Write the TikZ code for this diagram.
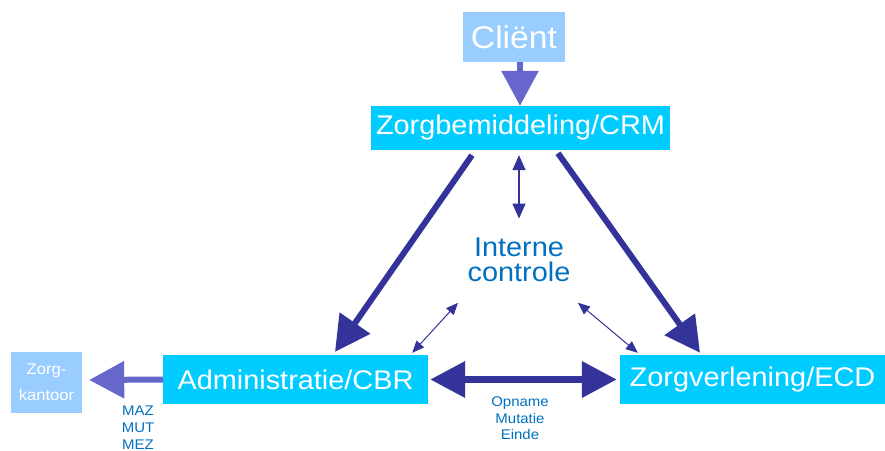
\documentclass[tikz,border=0pt]{standalone}
\usepackage{fontspec}
\setmainfont{Liberation Sans}[FakeStretch=1.07]
\usetikzlibrary{arrows.meta}
\definecolor{boxcyan}{HTML}{00CCFF}
\definecolor{lightbox}{HTML}{99CCFF}
\definecolor{midarrow}{HTML}{6666CC}
\definecolor{navy}{HTML}{333399}
\definecolor{textblue}{HTML}{0070C0}
\tikzset{
  mainbox/.style={fill=boxcyan, text=white, inner sep=0pt, font=\fontsize{27}{30}\selectfont},
  sidebox/.style={fill=lightbox, text=white, inner sep=0pt},
  bigflow/.style={draw=navy, line width=6pt, -{Triangle[length=35pt,width=36pt]}},
  inflow/.style={draw=midarrow, line width=6pt, -{Triangle[length=35pt,width=36pt]}},
  checklink/.style={draw=navy, line width=1pt, {Triangle[length=12pt,width=10pt]}-{Triangle[length=12pt,width=10pt]}},
  checkvert/.style={draw=navy, line width=1.5pt, {Triangle[length=15pt,width=13pt]}-{Triangle[length=15pt,width=13pt]}},
  exchange/.style={draw=navy, line width=7pt, {Triangle[length=35pt,width=35pt]}-{Triangle[length=35pt,width=35pt]}},
  smalllabel/.style={text=textblue, align=center, inner sep=0pt, font=\fontsize{14}{16.8}\selectfont}
}
\begin{document}
\begin{tikzpicture}[x=1pt,y=-1pt]
\useasboundingbox (0,0) rectangle (885,450);
% boxes
\node[sidebox, minimum width=102pt, minimum height=50pt, font=\fontsize{31.5}{32}\selectfont] (client) at (514,37) {Cliënt};
\node[mainbox, minimum width=299pt, minimum height=44pt] (crm) at (520.5,128) {Zorgbemiddeling/CRM};
\node[mainbox, minimum width=265pt, minimum height=49pt] (admin) at (295.5,379.5) {Administratie/CBR};
\node[mainbox, minimum width=265pt, minimum height=49pt] (zv) at (752.5,379.5) {Zorgverlening/ECD};
\node[sidebox, minimum width=71pt, minimum height=61pt, align=center, font=\fontsize{15.5}{26}\selectfont] (zk) at (46.5,382.5) {Zorg-\\kantoor};
% centre text
\node[text=textblue, align=center, inner sep=0pt, font=\fontsize{27}{25}\selectfont] (ic) at (519,259.7) {Interne\\controle};
% labels
\node[smalllabel, font=\fontsize{14}{17}\selectfont] (mut) at (138,428) {MAZ\\MUT\\MEZ};
\node[smalllabel, font=\fontsize{14}{16.5}\selectfont] (ome) at (520,418.4) {Opname\\Mutatie\\Einde};
% connectors
\draw[inflow] ([xshift=6pt]client.south) -- ([xshift=-0.5pt]crm.north);
\draw[bigflow] ([xshift=-48.5pt,yshift=-5pt]crm.south) -- ([xshift=39.5pt,yshift=3pt]admin.north);
\draw[bigflow] ([xshift=37.5pt,yshift=-3pt]crm.south) -- ([xshift=-52.5pt,yshift=2pt]zv.north);
\draw[checkvert] ([xshift=-1.5pt,yshift=-5pt]crm.south) -- ([yshift=19pt]ic.north);
\draw[checklink] ([xshift=-61pt,yshift=-21pt]ic.south) -- ([xshift=-16pt,yshift=2pt]admin.north east);
\draw[checklink] ([xshift=59pt,yshift=-21pt]ic.south) -- ([xshift=18pt,yshift=2pt]zv.north west);
\draw[exchange] ([xshift=2pt]admin.east) -- ([xshift=-3pt]zv.west);
\draw[inflow] (admin.west) -- ([xshift=7pt,yshift=2.5pt]zk.east);
\end{tikzpicture}
\end{document}
